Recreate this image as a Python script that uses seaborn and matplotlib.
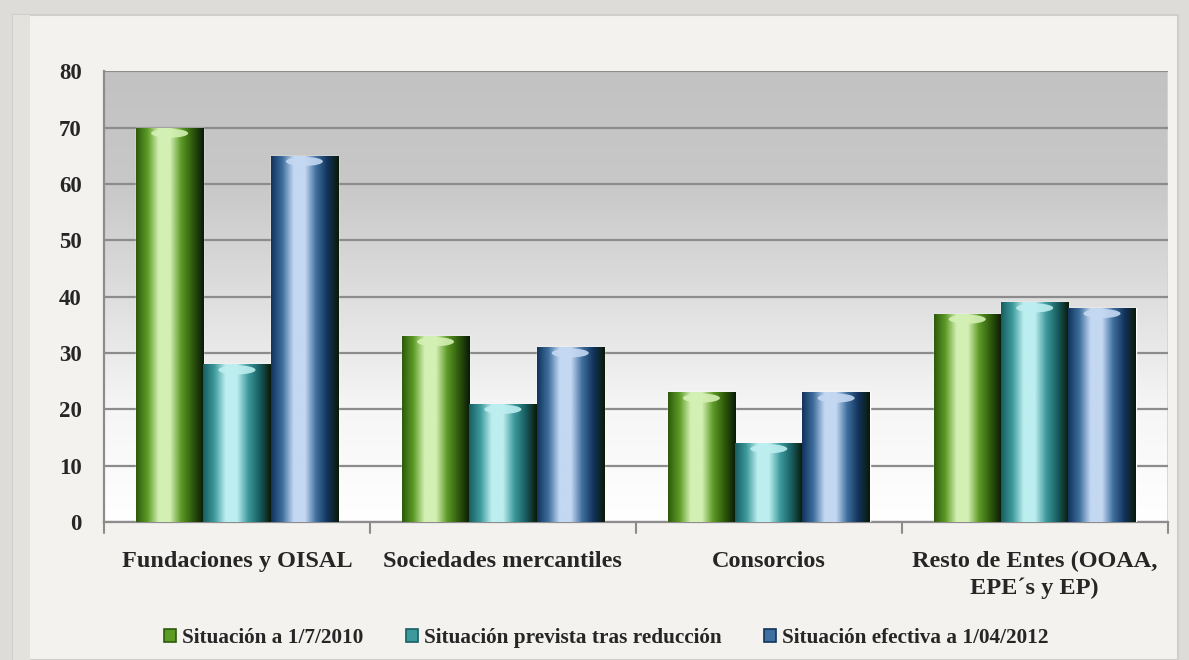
import numpy as np
import pandas as pd
import seaborn as sns
import matplotlib.pyplot as plt
import matplotlib.patches as mpatches
from matplotlib.colors import LinearSegmentedColormap

categories = ['Fundaciones y OISAL', 'Sociedades mercantiles', 'Consorcios',
              'Resto de Entes (OOAA,\nEPE\u00b4s y EP)']
series = ['Situación a 1/7/2010', 'Situación prevista tras reducción',
          'Situación efectiva a 1/04/2012']
sit_2010 = [70, 33, 23, 37]
sit_prevista = [28, 21, 14, 39]
sit_2012 = [65, 31, 23, 38]
y_ticks = [0, 10, 20, 30, 40, 50, 60, 70, 80]

# dark edge / light centre for the cylinder look
shades = {
    series[0]: ('#2f5a0c', '#5c9a26', '#d4f0b4'),
    series[1]: ('#185e62', '#3d9a9c', '#bdeef0'),
    series[2]: ('#12335c', '#3f6f9e', '#c4d8f2'),
}

df = pd.DataFrame({
    'Categoria': categories * 3,
    'Serie': [series[0]] * 4 + [series[1]] * 4 + [series[2]] * 4,
    'Valor': sit_2010 + sit_prevista + sit_2012,
})

sns.set_style('white')
plt.rcParams['font.family'] = ['Liberation Serif', 'DejaVu Serif']
plt.rcParams['font.weight'] = 'bold'

fig = plt.figure(figsize=(11.89, 6.6), dpi=100, facecolor='#dedcd8')
# paper sheet
fig.patches.append(mpatches.Rectangle((0.011, 0.0), 0.98, 0.977, transform=fig.transFigure,
                                      facecolor='#f3f2ef', edgecolor='#d0cfcb', lw=1.5, zorder=-2))
fig.patches.append(mpatches.Rectangle((0.011, 0.0), 0.014, 0.977, transform=fig.transFigure,
                                      facecolor='#e4e2dd', edgecolor='none', zorder=-1))

ax = fig.add_axes([0.0875, 0.209, 0.8945, 0.683])
ax.set_facecolor('none')
palette = {s: shades[s][1] for s in series}
sns.barplot(data=df, x='Categoria', y='Valor', hue='Serie', hue_order=series,
            order=categories, palette=palette, width=0.76, gap=0, dodge=True,
            saturation=1, ax=ax, legend=False, zorder=3)

ax.set_ylim(0, 80)
ax.set_xlim(-0.5, 3.5)

# plot area background: grey at the top fading to white
bg = LinearSegmentedColormap.from_list('bg', ['#ffffff', '#f6f6f6', '#dedede', '#c8c8c8', '#c2c2c2'])
grad = np.linspace(0, 1, 256).reshape(-1, 1)
ax.imshow(grad, cmap=bg, aspect='auto', extent=(-0.5, 3.5, 0, 80), origin='lower', zorder=0)
ax.axvline(3.5, color='#d4d4d4', lw=2, zorder=1)

# cylinder shading on each bar
for i, patch in enumerate(ax.patches):
    s = series[i // len(categories)]
    dark, mid, light = shades[s]
    cm = LinearSegmentedColormap.from_list('c', [dark, mid, light, light, mid, dark, '#0a1a08'])
    x0, w, h = patch.get_x(), patch.get_width(), patch.get_height()
    hg = np.linspace(0, 1, 200).reshape(1, -1)
    im = ax.imshow(hg, cmap=cm, aspect='auto', extent=(x0, x0 + w, 0, h), zorder=4)
    im.set_clip_path(patch)
    # top cap highlight
    cap = mpatches.Ellipse((x0 + w / 2, h - 1.0), w * 0.55, 1.6, facecolor=light,
                           edgecolor='none', alpha=0.9, zorder=5)
    ax.add_patch(cap)

ax.set_yticks(y_ticks)
ax.yaxis.grid(True, color='#8c8c8c', lw=1.6, zorder=1)
ax.set_axisbelow(False)
for g in ax.get_ygridlines():
    g.set_zorder(1)

ax.set_xticks([0, 1, 2, 3])
ax.set_xticklabels(categories, fontsize=17.5, fontweight='bold', linespacing=1.3)
ax.tick_params(axis='x', length=0, pad=21)
ax.tick_params(axis='y', labelsize=16.5, length=8, width=1.5, color='#8c8c8c', pad=8)
for t in ax.get_yticklabels():
    t.set_fontweight('bold')
for b in [-0.5, 0.5, 1.5, 2.5, 3.5]:
    ax.axvline(b, ymin=-0.025, ymax=0, color='#8c8c8c', lw=1.5, clip_on=False)

for side in ['top', 'right']:
    ax.spines[side].set_visible(False)
for side in ['left', 'bottom']:
    ax.spines[side].set_color('#8c8c8c')
    ax.spines[side].set_linewidth(1.6)
ax.set_xlabel('')
ax.set_ylabel('')

handles = [mpatches.Patch(facecolor=shades[s][1], edgecolor=shades[s][0], lw=1.2, label=s)
           for s in series]
fig.legend(handles=handles, loc='center', bbox_to_anchor=(0.51, 0.033), ncol=3,
           frameon=False, prop={'size': 15.3, 'weight': 'bold'},
           handlelength=0.55, handleheight=0.55, handletextpad=0.3, columnspacing=2.0)

fig.savefig('out.png', dpi=100, facecolor=fig.get_facecolor())
